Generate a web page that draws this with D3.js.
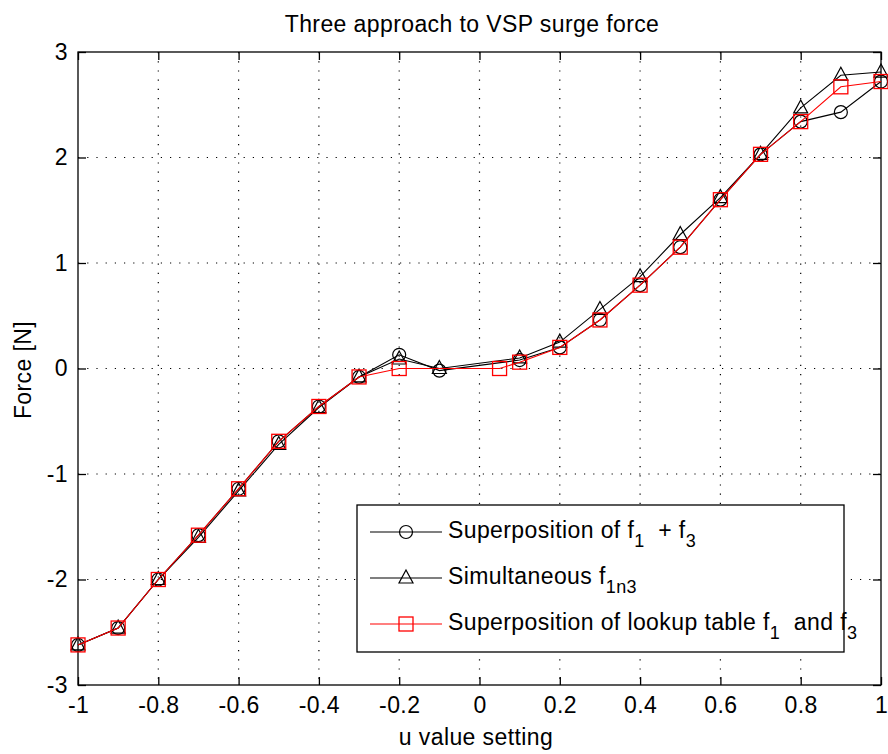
<!DOCTYPE html>
<html>
<head>
<meta charset="utf-8">
<script src="https://d3js.org/d3.v7.min.js"></script>
<style>
    body { margin: 0; background: #fff; }
    text { font-family: "Liberation Sans", Arial, sans-serif; letter-spacing: 0.4px; }
</style>
</head>
<body>
<svg id="drawing_region"></svg>
<script>
// u values for the two black series (no point at u = 0)
const u_black = [-1, -0.9, -0.8, -0.7, -0.6, -0.5, -0.4, -0.3, -0.2, -0.1,
                 0.1, 0.2, 0.3, 0.4, 0.5, 0.6, 0.7, 0.8, 0.9, 1];
const f_superpos = [-2.62, -2.46, -2.00, -1.58, -1.14, -0.69, -0.36, -0.08, 0.13, -0.02,
                    0.08, 0.20, 0.46, 0.79, 1.15, 1.60, 2.03, 2.34, 2.43, 2.72];
const f_simult = [-2.62, -2.46, -2.00, -1.60, -1.16, -0.72, -0.37, -0.08, 0.09, 0.00,
                  0.10, 0.25, 0.56, 0.87, 1.27, 1.62, 2.03, 2.47, 2.78, 2.81];

// lookup table series
const u_lookup = [-1, -0.9, -0.8, -0.7, -0.6, -0.5, -0.4, -0.3, -0.2, 0.05,
                  0.1, 0.2, 0.3, 0.4, 0.5, 0.6, 0.7, 0.8, 0.9, 1];
const f_lookup = [-2.62, -2.46, -2.00, -1.58, -1.14, -0.69, -0.36, -0.08, 0.00, 0.00,
                  0.06, 0.20, 0.46, 0.79, 1.15, 1.60, 2.03, 2.34, 2.67, 2.72];

const x_ticks = [-1, -0.8, -0.6, -0.4, -0.2, 0, 0.2, 0.4, 0.6, 0.8, 1];
const y_ticks = [-3, -2, -1, 0, 1, 2, 3];

const series = [
    { u: u_black,  f: f_superpos, color: 'black', marker: 'circle',
      label: [['Superposition of f', '1'], ['  + f', '3']] },
    { u: u_black,  f: f_simult,   color: 'black', marker: 'triangle',
      label: [['Simultaneous f', '1n3']] },
    { u: u_lookup, f: f_lookup,   color: 'red',   marker: 'square',
      label: [['Superposition of lookup table f', '1'], ['  and f', '3']] }
];

const config = {
    width: 888,
    height: 754,
    margin: {top: 52, right: 7, bottom: 69, left: 78},
    font_size: 23
};

const svg = d3.select('#drawing_region')
    .attr('width', config.width)
    .attr('height', config.height);

const inner_width = config.width - config.margin.left - config.margin.right;
const inner_height = config.height - config.margin.top - config.margin.bottom;

const chart = svg.append('g')
    .attr('transform', `translate(${config.margin.left}, ${config.margin.top})`);

const xscale = d3.scaleLinear().domain([-1, 1]).range([0, inner_width]);
const yscale = d3.scaleLinear().domain([-3, 3]).range([inner_height, 0]);

// dotted grid
chart.append('g').selectAll('line')
    .data(x_ticks.slice(1, -1)).enter()
    .append('line')
    .attr('x1', d => xscale(d)).attr('x2', d => xscale(d))
    .attr('y1', 0).attr('y2', inner_height)
    .attr('stroke', 'black').attr('stroke-width', 1.2)
    .attr('stroke-dasharray', '1.2,8');

chart.append('g').selectAll('line')
    .data(y_ticks.slice(1, -1)).enter()
    .append('line')
    .attr('y1', d => yscale(d)).attr('y2', d => yscale(d))
    .attr('x1', 0).attr('x2', inner_width)
    .attr('stroke', 'black').attr('stroke-width', 1.2)
    .attr('stroke-dasharray', '1.2,8');

// axes with inward ticks
const fmt = d => d === 0 ? '0' : String(d);

const xaxis_group = chart.append('g')
    .attr('transform', `translate(0, ${inner_height})`)
    .call(d3.axisBottom(xscale).tickValues(x_ticks).tickFormat(fmt)
        .tickSizeInner(-8).tickSizeOuter(0).tickPadding(12));

const yaxis_group = chart.append('g')
    .call(d3.axisLeft(yscale).tickValues(y_ticks).tickFormat(fmt)
        .tickSizeInner(-8).tickSizeOuter(0).tickPadding(10));

const top_group = chart.append('g')
    .call(d3.axisTop(xscale).tickValues(x_ticks).tickFormat('')
        .tickSizeInner(-8).tickSizeOuter(0));

const right_group = chart.append('g')
    .attr('transform', `translate(${inner_width}, 0)`)
    .call(d3.axisRight(yscale).tickValues(y_ticks).tickFormat('')
        .tickSizeInner(-8).tickSizeOuter(0));

[xaxis_group, yaxis_group, top_group, right_group].forEach(g => {
    g.select('.domain').remove();
    g.selectAll('line').attr('stroke', 'black').attr('stroke-width', 1.3);
    g.selectAll('text')
        .attr('fill', 'black')
        .attr('font-size', config.font_size)
        .attr('font-family', '"Liberation Sans", Arial, sans-serif');
});
// the top and right axes only carry ticks
top_group.selectAll('text').remove();
right_group.selectAll('text').remove();

chart.append('rect')
    .attr('x', 0).attr('y', 0)
    .attr('width', inner_width).attr('height', inner_height)
    .attr('fill', 'none').attr('stroke', 'black').attr('stroke-width', 1.3);

// markers
function drawMarker(g, type, x, y, color) {
    if (type === 'circle') {
        g.append('circle').attr('cx', x).attr('cy', y).attr('r', 6.5)
            .attr('fill', 'none').attr('stroke', color).attr('stroke-width', 1.2);
    } else if (type === 'triangle') {
        g.append('path')
            .attr('d', `M${x},${y - 8} L${x + 7},${y + 5} L${x - 7},${y + 5} Z`)
            .attr('fill', 'none').attr('stroke', color).attr('stroke-width', 1.2);
    } else {
        g.append('rect').attr('x', x - 7).attr('y', y - 7)
            .attr('width', 14).attr('height', 14)
            .attr('fill', 'none').attr('stroke', color).attr('stroke-width', 1.3);
    }
}

const line = d3.line().x(d => xscale(d[0])).y(d => yscale(d[1]));

series.forEach(s => {
    const pts = s.u.map((u, i) => [u, s.f[i]]);
    const g = chart.append('g');
    g.append('path')
        .datum(pts)
        .attr('d', line)
        .attr('fill', 'none')
        .attr('stroke', s.color)
        .attr('stroke-width', 1.1);
    pts.forEach(p => drawMarker(g, s.marker, xscale(p[0]), yscale(p[1]), s.color));
});

// legend
const legend = svg.append('g').attr('transform', 'translate(357, 505)');
legend.append('rect')
    .attr('width', 487).attr('height', 147)
    .attr('fill', 'white').attr('stroke', 'black').attr('stroke-width', 1.3);

series.forEach((s, i) => {
    const y = 27 + i * 46;
    const row = legend.append('g');
    row.append('line')
        .attr('x1', 13).attr('x2', 85).attr('y1', y).attr('y2', y)
        .attr('stroke', s.color).attr('stroke-width', 1.2);
    drawMarker(row, s.marker, 49, y, s.color);
    const t = row.append('text')
        .attr('x', 91).attr('y', y + 6)
        .attr('fill', 'black')
        .attr('font-size', config.font_size)
        .style('white-space', 'pre');
    s.label.forEach((part, j) => {
        t.append('tspan').text(part[0]).attr('dy', j > 0 ? -9 : 0);
        t.append('tspan').text(part[1])
            .attr('font-size', 18)
            .attr('dy', 9);
    });
});

// title and axis labels
svg.append('text')
    .attr('x', 472).attr('y', 32)
    .attr('text-anchor', 'middle')
    .attr('font-size', config.font_size)
    .attr('fill', 'black')
    .text('Three approach to VSP surge force');

svg.append('text')
    .attr('x', 476).attr('y', 745)
    .attr('text-anchor', 'middle')
    .attr('font-size', config.font_size)
    .attr('fill', 'black')
    .text('u value setting');

svg.append('text')
    .attr('transform', 'translate(31, 370) rotate(-90)')
    .attr('text-anchor', 'middle')
    .attr('font-size', config.font_size)
    .attr('fill', 'black')
    .text('Force [N]');
</script>
</body>
</html>
